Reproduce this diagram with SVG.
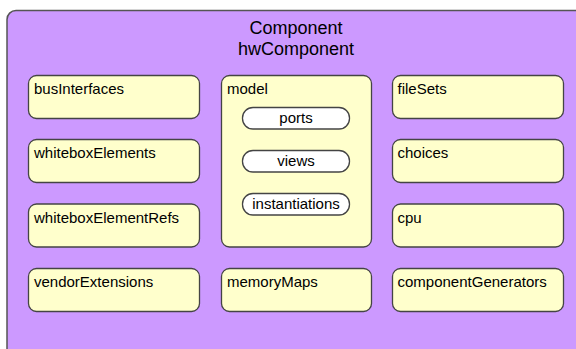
<svg xmlns="http://www.w3.org/2000/svg" width="576" height="349" viewBox="0 0 576 349">
<style>
.outer{fill:#CC99FF;stroke:#555;stroke-width:1.5}
.box{fill:#FFFFCC;stroke:#444;stroke-width:1.3}
.pill{fill:#FFFFFF;stroke:#444;stroke-width:1.3}
text{font-family:"Liberation Sans",Arial,sans-serif;fill:#000}
.lbl{font-size:15px}
.ttl{font-size:18px;text-anchor:middle}
.pl{font-size:15px;text-anchor:middle}
</style>
<rect width="576" height="349" fill="#FFFFFF"/>
<g id="hwComponent">
<rect class="outer" x="7" y="10.5" width="600" height="360" rx="9"/>
<text class="ttl" x="296" y="34">Component</text>
<text class="ttl" x="296" y="55">hwComponent</text>
</g>
<g id="busInterfaces"><rect class="box" x="28.5" y="75.5" width="171" height="43" rx="8"/><text class="lbl" x="34" y="94">busInterfaces</text></g>
<g id="whiteboxElements"><rect class="box" x="28.5" y="139.5" width="171" height="43" rx="8"/><text class="lbl" x="34" y="158">whiteboxElements</text></g>
<g id="whiteboxElementRefs"><rect class="box" x="28.5" y="204" width="171" height="43" rx="8"/><text class="lbl" x="34" y="222.5">whiteboxElementRefs</text></g>
<g id="vendorExtensions"><rect class="box" x="28.5" y="268.5" width="171" height="43" rx="8"/><text class="lbl" x="34" y="287">vendorExtensions</text></g>
<g id="model"><rect class="box" x="221.5" y="75.5" width="150" height="171.5" rx="8"/><text class="lbl" x="227" y="94">model</text></g>
<g id="ports"><rect class="pill" x="242.5" y="107.5" width="107" height="21.5" rx="10.5"/><text class="pl" x="296" y="123">ports</text></g>
<g id="views"><rect class="pill" x="242.5" y="150.5" width="107" height="21.5" rx="10.5"/><text class="pl" x="296" y="166">views</text></g>
<g id="instantiations"><rect class="pill" x="242.5" y="193.5" width="107" height="21.5" rx="10.5"/><text class="pl" x="296" y="209">instantiations</text></g>
<g id="memoryMaps"><rect class="box" x="221.5" y="268.5" width="150" height="43" rx="8"/><text class="lbl" x="227" y="287">memoryMaps</text></g>
<g id="fileSets"><rect class="box" x="392.5" y="75.5" width="171" height="43" rx="8"/><text class="lbl" x="397.5" y="94">fileSets</text></g>
<g id="choices"><rect class="box" x="392.5" y="139.5" width="171" height="43" rx="8"/><text class="lbl" x="397.5" y="158">choices</text></g>
<g id="cpu"><rect class="box" x="392.5" y="204" width="171" height="43" rx="8"/><text class="lbl" x="397.5" y="222.5">cpu</text></g>
<g id="componentGenerators"><rect class="box" x="392.5" y="268.5" width="171" height="43" rx="8"/><text class="lbl" x="397.5" y="287">componentGenerators</text></g>
<g id="connectors"></g>
</svg>
